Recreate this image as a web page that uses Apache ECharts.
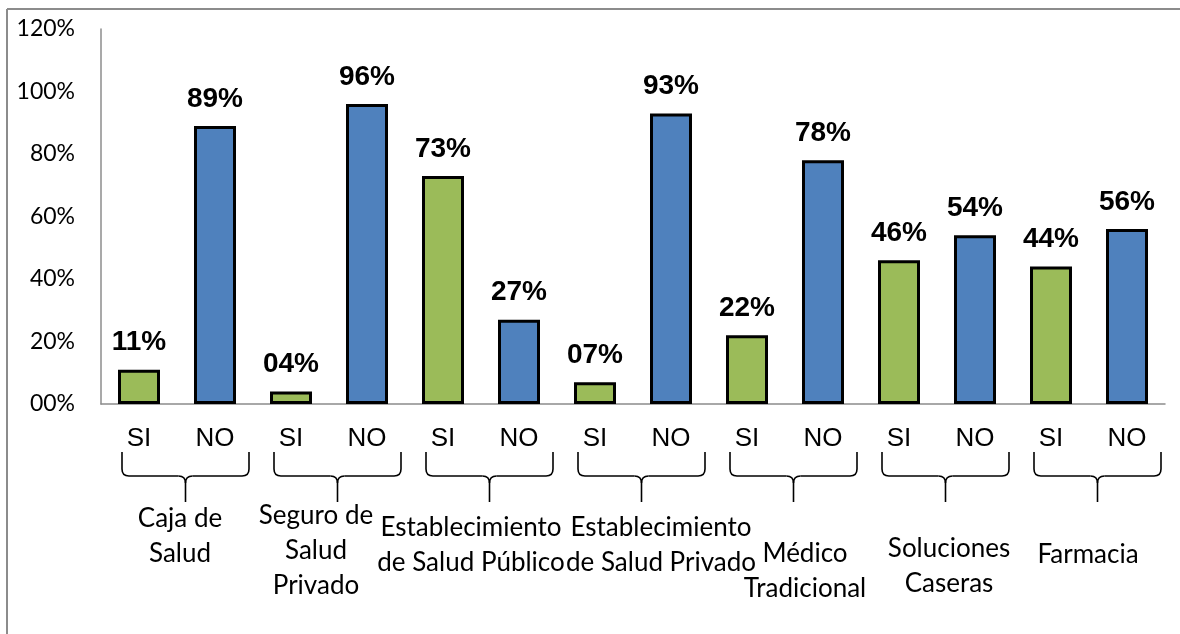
<!DOCTYPE html>
<html>
<head>
<meta charset="utf-8">
<script src="https://cdn.jsdelivr.net/npm/echarts@6/dist/echarts.min.js"></script>
<style>
  html, body { margin: 0; padding: 0; background: #fff; }
  #chart { width: 1180px; height: 634px; }
</style>
</head>
<body>
<div id="chart"></div>
<script>
// Answers per source of care: SI / NO pairs
const answers = ['SI', 'NO', 'SI', 'NO', 'SI', 'NO', 'SI', 'NO', 'SI', 'NO', 'SI', 'NO', 'SI', 'NO'];
const percentages = [11, 89, 4, 96, 73, 27, 7, 93, 22, 78, 46, 54, 44, 56];
const groups = [
  'Caja de\nSalud',
  'Seguro de\nSalud\nPrivado',
  'Establecimiento\nde Salud Público',
  'Establecimiento\nde Salud Privado',
  'Médico\nTradicional',
  'Soluciones\nCaseras',
  'Farmacia'
];
const yTicks = [0, 20, 40, 60, 80, 100, 120];

// Text-box placement for the group captions: horizontal shift from the pair centre, vertical centre
const groupLabelLayout = [
  { dx: 3, cy: 536 }, { dx: -13, cy: 551 }, { dx: -10, cy: 545 }, { dx: 28, cy: 545 },
  { dx: 20, cy: 571 }, { dx: 12, cy: 566 }, { dx: -1, cy: 555 }
];

const GREEN = '#9bbb59';
const BLUE = '#4f81bd';
const pad2 = v => (v < 10 ? '0' + v : '' + v) + '%';

const chart = echarts.init(document.getElementById('chart'));

chart.setOption({
  animation: false,
  backgroundColor: '#ffffff',
  grid: { left: 101, right: 15, top: 29, bottom: 230, containLabel: false },
  xAxis: {
    type: 'category',
    data: answers,
    axisLine: { show: true, lineStyle: { color: '#8c8c8c', width: 1.5 } },
    axisTick: { show: false },
    axisLabel: {
      margin: 22,
      fontFamily: 'Liberation Sans, Arial, sans-serif',
      fontSize: 26,
      color: '#000'
    }
  },
  yAxis: {
    type: 'value',
    min: yTicks[0],
    max: yTicks[yTicks.length - 1],
    interval: yTicks[1] - yTicks[0],
    splitLine: { show: false },
    axisTick: { show: false },
    axisLine: { show: true, lineStyle: { color: '#8c8c8c', width: 1.5 } },
    axisLabel: {
      margin: 26,
      fontFamily: 'Lato, sans-serif',
      fontSize: 23,
      color: '#000',
      formatter: v => pad2(v)
    }
  },
  series: [{
    type: 'bar',
    barWidth: 42,
    data: percentages.map((v, i) => ({
      value: v,
      itemStyle: { color: answers[i] === 'SI' ? GREEN : BLUE }
    })),
    itemStyle: { borderColor: '#000', borderWidth: 3 },
    label: {
      show: true,
      position: 'top',
      distance: 13,
      fontFamily: 'Liberation Sans, Arial, sans-serif',
      fontWeight: 'bold',
      fontSize: 28,
      color: '#000',
      formatter: p => pad2(p.value)
    }
  }]
});

// A curly brace opening upwards, built from straight and quadratic pieces
function braceParts(L, R, T, S, B) {
  const M = (L + R) / 2, r = 7;
  const st = { stroke: '#000', lineWidth: 1.6, fill: null };
  const line = (x1, y1, x2, y2) => ({ type: 'line', shape: { x1, y1, x2, y2 }, style: st, silent: true });
  const curve = (x1, y1, cx, cy, x2, y2) => ({
    type: 'bezierCurve', shape: { x1, y1, cpx1: cx, cpy1: cy, x2, y2 }, style: st, silent: true
  });
  return [
    line(L, T, L, S - r),
    curve(L, S - r, L, S, L + r, S),
    line(L + r, S, M - r, S),
    curve(M - r, S, M, S, M, S + r),
    curve(M + r, S, M, S, M, S + r),
    line(M, S + r, M, B),
    line(M + r, S, R - r, S),
    curve(R - r, S, R, S, R, S - r),
    line(R, S - r, R, T)
  ];
}

const elements = [];
groups.forEach((name, g) => {
  const xSi = chart.convertToPixel({ xAxisIndex: 0 }, g * 2);
  const xNo = chart.convertToPixel({ xAxisIndex: 0 }, g * 2 + 1);
  const mid = (xSi + xNo) / 2;
  braceParts(xSi - 17, xNo + 34, 452, 476, 502).forEach(el => elements.push(el));
  const lay = groupLabelLayout[g];
  elements.push({
    type: 'text',
    x: mid + lay.dx,
    y: lay.cy,
    style: {
      text: name,
      fontFamily: 'Lato, sans-serif',
      fontSize: 26,
      lineHeight: 35,
      fill: '#000',
      align: 'center',
      verticalAlign: 'middle'
    },
    silent: true
  });
});

// Frame lines along the top and left edges
elements.push({
  type: 'line',
  shape: { x1: 7, y1: 9, x2: 1180, y2: 9 },
  style: { stroke: '#8c8c8c', lineWidth: 2 },
  silent: true
});
elements.push({
  type: 'line',
  shape: { x1: 7, y1: 9, x2: 7, y2: 634 },
  style: { stroke: '#8c8c8c', lineWidth: 2 },
  silent: true
});

chart.setOption({ graphic: { elements: elements } });
</script>
</body>
</html>
